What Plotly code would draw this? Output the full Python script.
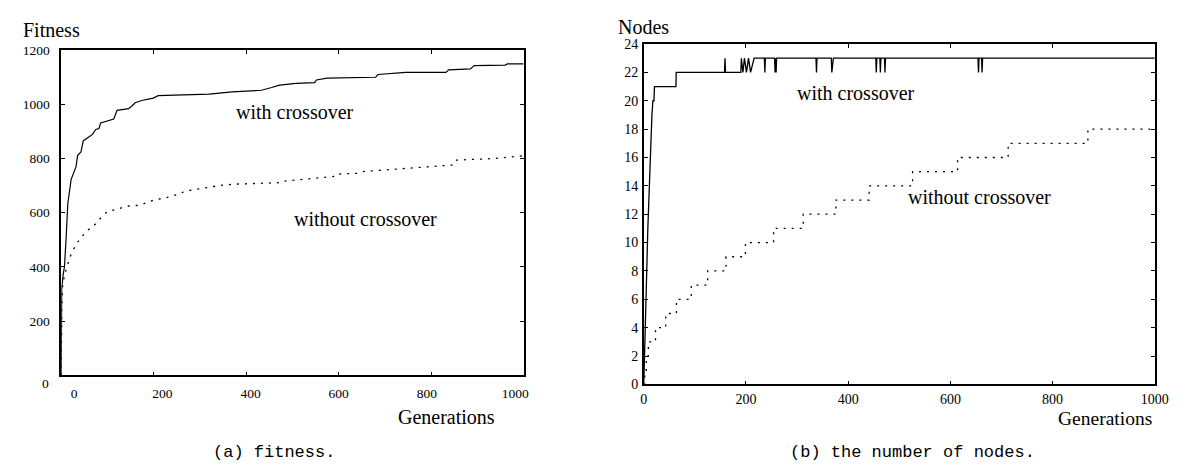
import plotly.graph_objects as go

W, H = 1183, 466

# ---------------- data: (a) fitness ----------------
fit_with_gen = [0, 0.5, 1, 4, 7, 10.6, 14.2, 21.3, 28.4, 32, 35.5, 42.6, 47.6, 56.8, 67.5,
                74.6, 81.7, 85.2, 103, 113.6, 120.7, 145.6, 152.7, 159.8, 174, 199, 209.7,
                263, 320, 369.5, 405, 433, 455, 472, 508, 548, 552, 575, 680, 685, 745,
                832, 838, 885, 893, 960, 965, 1000]
fit_with_val = [0, 200, 318, 370, 401, 508, 633, 722, 752, 770, 812, 824, 865, 877, 889,
                907, 911, 931, 940, 946, 978, 984, 994, 1006, 1014, 1023, 1032,
                1035, 1038, 1046, 1050, 1052, 1062, 1071, 1077, 1080, 1090, 1097, 1100, 1110, 1118,
                1118, 1127, 1131, 1143, 1145, 1149, 1149]

fit_wo_gen = [0, 1, 3, 7.3, 17.7, 25, 35.5, 44, 56.8, 69.6, 81.7, 99.4, 120.7, 142, 170,
              188, 202, 223.7, 248.5, 270, 305.5, 348, 383, 476, 480, 589, 593, 646, 653,
              745, 845, 852, 937, 1000]
fit_wo_val = [0, 250, 330, 371, 431, 461, 491, 511, 535, 550, 574, 604, 613, 624, 628,
              639, 648, 654, 666, 680, 690, 702, 706, 711, 716, 734, 742, 746, 752,
              764, 776, 794, 800, 810]

fit_xticks = [0, 200, 400, 600, 800, 1000]
fit_yticks = [0, 200, 400, 600, 800, 1000, 1200]

# ---------------- data: (b) number of nodes ----------------
nodes_with_gen = [0, 1, 3, 8, 14, 16, 18, 20, 21, 63, 63.5, 158, 159, 160,
                  190, 191, 194, 197, 201, 205, 209, 216,
                  236, 237, 238, 256, 257, 258, 259, 260, 337, 338, 339,
                  367, 368, 371, 454, 455, 456, 462, 463, 464, 471, 472, 473,
                  654, 655, 656, 661, 662, 663, 1000]
nodes_with_val = [0, 2, 4, 11, 17.5, 19, 20, 20, 21, 21, 22, 22, 23, 22,
                  22, 23, 22, 23, 22, 23, 22, 23,
                  23, 22, 23, 23, 22, 23, 22, 23, 23, 22, 23,
                  23, 22, 23, 23, 22, 23, 23, 22, 23, 23, 22, 23,
                  23, 22, 23, 23, 22, 23, 23]

nodes_wo_gen = [0, 2, 5, 9, 23, 43, 64, 93, 125, 161, 199, 254, 312, 376, 441, 526,
                614, 713, 869, 1000]
nodes_wo_val = [0, 1, 2, 3, 4, 5, 6, 7, 8, 9, 10, 11, 12, 13, 14, 15, 16, 17, 18, 18]

nodes_xticks = [0, 200, 400, 600, 800, 1000]
nodes_yticks = list(range(0, 25, 2))

# ---------------- layout helpers ----------------
def px(x):
    return x / W

def py(y):
    return 1 - y / H

SERIF = "Liberation Serif"
CAP = "Liberation Mono"

fig = go.Figure()

fig.add_trace(go.Scatter(x=fit_with_gen, y=fit_with_val, mode="lines",
                         line=dict(color="black", width=1.2), xaxis="x", yaxis="y"))
fig.add_trace(go.Scatter(x=fit_wo_gen, y=fit_wo_val, mode="lines",
                         line=dict(color="black", width=1.3, dash="2px,6px"),
                         xaxis="x", yaxis="y"))
fig.add_trace(go.Scatter(x=nodes_with_gen, y=nodes_with_val, mode="lines",
                         line=dict(color="black", width=1.3), xaxis="x2", yaxis="y2"))
fig.add_trace(go.Scatter(x=nodes_wo_gen, y=nodes_wo_val, mode="lines", line_shape="hv",
                         line=dict(color="black", width=1.3, dash="2px,6px"),
                         xaxis="x2", yaxis="y2"))
# empty trace so the label-only overlay axis x3 is drawn
fig.add_trace(go.Scatter(x=[None], y=[None], xaxis="x3", yaxis="y", showlegend=False))

axis_common = dict(showline=True, linecolor="black", linewidth=1.6, mirror="ticks",
                   ticks="inside", ticklen=4, tickcolor="black", tickwidth=1,
                   showgrid=False, zeroline=False)

left_dom_x = [px(50), px(519.5)]
left_dom_y = [py(372.3), py(36.3)]
right_dom_x = [px(641.5), px(1160.5)]
right_dom_y = [py(381.7), py(30)]

fig.update_layout(
    width=W, height=H,
    margin=dict(l=0, r=0, t=0, b=0),
    paper_bgcolor="white", plot_bgcolor="white",
    showlegend=False,
    xaxis=dict(domain=left_dom_x, range=[0, 1000], anchor="y",
               tickvals=fit_xticks, showticklabels=False, **axis_common),
    xaxis3=dict(domain=left_dom_x, range=[-29, 1019], anchor="y", overlaying="x",
                tickvals=fit_xticks, ticktext=[str(v) for v in fit_xticks],
                ticks="", showline=False, showgrid=False, zeroline=False,
                ticklabelstandoff=8,
                tickfont=dict(family=SERIF, size=13.5, color="black")),
    yaxis=dict(domain=left_dom_y, range=[0, 1200], anchor="x",
               tickvals=fit_yticks,
               ticktext=["" if v == 0 else str(v) for v in fit_yticks],
               ticklabelstandoff=7,
               tickfont=dict(family=SERIF, size=13.5, color="black"), **axis_common),
    xaxis2=dict(domain=right_dom_x, range=[0, 1000], anchor="y2",
                tickvals=nodes_xticks, ticklabelstandoff=1,
                tickfont=dict(family=SERIF, size=14, color="black"), **axis_common),
    yaxis2=dict(domain=right_dom_y, range=[0, 24], anchor="x2",
                tickvals=nodes_yticks, ticklabelstandoff=1,
                tickfont=dict(family=SERIF, size=14, color="black"), **axis_common),
)

ann = []
def txt(text, x, y, size=20, family=SERIF, xanchor="center"):
    ann.append(dict(text=text, x=px(x), y=py(y), xref="paper", yref="paper",
                    xanchor=xanchor, yanchor="middle", showarrow=False,
                    font=dict(family=family, size=size, color="black")))

# axis titles
txt("Fitness", 9, 15, xanchor="left")
txt("Generations", 493, 415, xanchor="right")
txt("Nodes", 613, 12, xanchor="left")
txt("Generations", 1160, 417, size=19.5, xanchor="right")
# curve labels
txt("with crossover", 287, 100)
txt("without crossover", 359, 211)
txt("with crossover", 857, 81)
txt("without crossover", 982, 188)
# captions
txt("(a) fitness.", 266, 452, size=17, family=CAP)
txt("(b) the number of nodes.", 914, 452, size=17, family=CAP)
# lone "0" label of the fitness y axis, set slightly below the axis
ann.append(dict(text="0", x=px(39.5), y=0, xref="paper", yref="y",
                xanchor="right", yanchor="middle", yshift=-8, showarrow=False,
                font=dict(family=SERIF, size=13.5, color="black")))

fig.update_layout(annotations=ann)
fig.write_html("out.html")
